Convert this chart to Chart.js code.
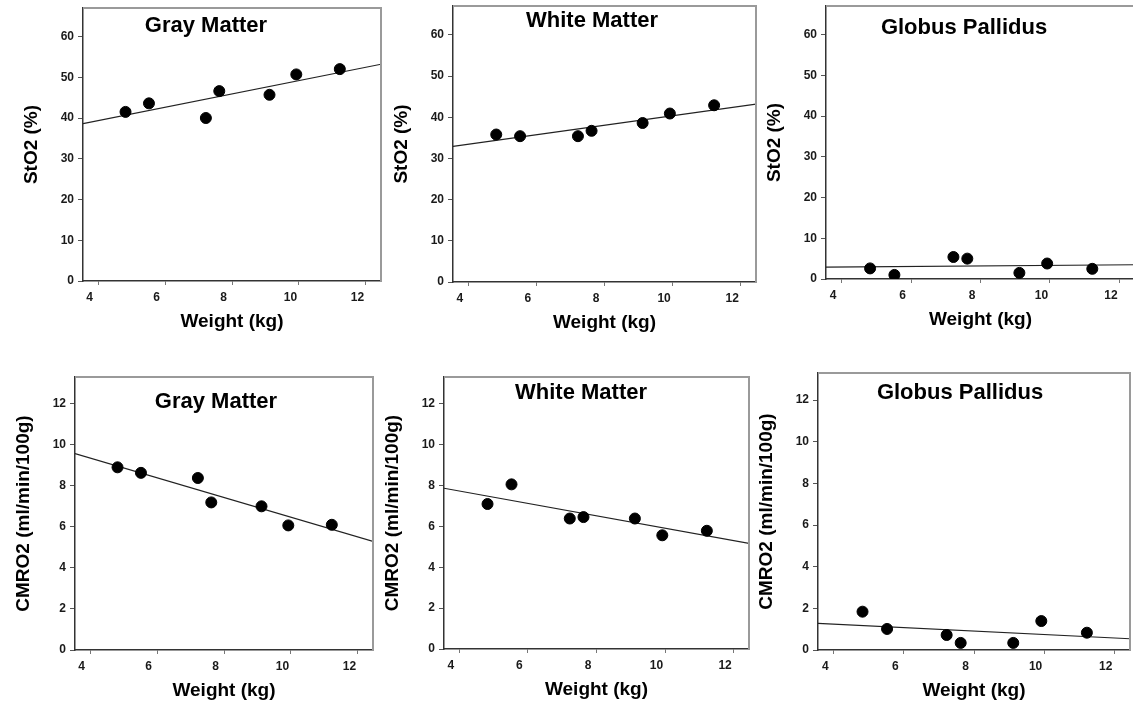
<!DOCTYPE html>
<html>
<head>
<meta charset="utf-8">
<script src="https://cdn.jsdelivr.net/npm/chart.js@4.4.1/dist/chart.umd.min.js"></script>
<style>
html, body { margin: 0; padding: 0; background: #fff; overflow: hidden; width: 1133px; height: 707px; }
.panel { position: absolute; }
</style>
</head>
<body>

<script>
// body weights (kg), same animals in every panel
const weights = [4.82, 5.52, 7.22, 7.62, 9.12, 9.92, 11.22]
const xTicks = [4, 6, 8, 10, 12]
const xRange = [3.55, 12.45]

const sto2Ticks = [0, 10, 20, 30, 40, 50, 60]
const cmro2Ticks = [0, 2, 4, 6, 8, 10, 12]

// StO2 (%)
const sto2Gray = [41.5, 43.6, 40.0, 46.6, 45.7, 50.7, 52.0]
const sto2White = [35.8, 35.4, 35.4, 36.7, 38.6, 40.9, 42.9]
const sto2Globus = [2.6, 1.0, 5.4, 5.0, 1.5, 3.8, 2.5]

// CMRO2 (ml/min/100g)
const cmro2Gray = [8.9, 8.63, 8.38, 7.19, 7.0, 6.07, 6.1]
const cmro2White = [7.09, 8.05, 6.38, 6.45, 6.38, 5.56, 5.78]
const cmro2Globus = [1.84, 1.01, 0.72, 0.34, 0.34, 1.39, 0.83]

// regression line values at the two ends of xRange
const sto2GrayFit = [38.6, 53.2]
const sto2WhiteFit = [32.9, 43.2]
const sto2GlobusFit = [2.9, 3.5]
const cmro2GrayFit = [9.57, 5.29]
const cmro2WhiteFit = [7.86, 5.16]
const cmro2GlobusFit = [1.28, 0.54]

const FONT = "'Liberation Sans', Arial, sans-serif"

// plot area boxes in page pixels [left, top, right, bottom], title offsets inside the plot
const panels = [
{ box: [83, 8, 381, 281], title: "Gray Matter", tx: 123, ty: 18, values: sto2Gray, fit: sto2GrayFit, yLabel: "StO2 (%)", yTicks: sto2Ticks, yMax: 67 },
{ box: [453, 6, 756, 282], title: "White Matter", tx: 139, ty: 15, values: sto2White, fit: sto2WhiteFit, yLabel: "StO2 (%)", yTicks: sto2Ticks, yMax: 67 },
{ box: [826, 6, 1135, 279], title: "Globus Pallidus", tx: 138, ty: 22, values: sto2Globus, fit: sto2GlobusFit, yLabel: "StO2 (%)", yTicks: sto2Ticks, yMax: 67 },
{ box: [75, 377, 373, 650], title: "Gray Matter", tx: 141, ty: 25, values: cmro2Gray, fit: cmro2GrayFit, yLabel: "CMRO2 (ml/min/100g)", yTicks: cmro2Ticks, yMax: 13.3 },
{ box: [444, 377, 749, 649], title: "White Matter", tx: 137, ty: 16, values: cmro2White, fit: cmro2WhiteFit, yLabel: "CMRO2 (ml/min/100g)", yTicks: cmro2Ticks, yMax: 13.3 },
{ box: [818, 373, 1130, 650], title: "Globus Pallidus", tx: 142, ty: 20, values: cmro2Globus, fit: cmro2GlobusFit, yLabel: "CMRO2 (ml/min/100g)", yTicks: cmro2Ticks, yMax: 13.3 }
]

const AXIS_W = 80
const AXIS_H = 60
const PAD = 20


// gray frame on top/right + panel title inside the plot
const framePlugin = {
id: "panelFrame",
afterDraw(chart, args, opts) {
const ctx = chart.ctx
const a = chart.chartArea
ctx.save()
ctx.strokeStyle = "#9a9a9a"
ctx.lineWidth = 2
ctx.beginPath()
ctx.moveTo(a.left, a.top)
ctx.lineTo(a.right, a.top)
ctx.lineTo(a.right, a.bottom)
ctx.stroke()
ctx.fillStyle = "#000"
ctx.font = "bold 22px " + FONT
ctx.textAlign = "center"
ctx.textBaseline = "middle"
ctx.fillText(opts.text, a.left + opts.dx, a.top + opts.dy)
ctx.restore()
}
}


panels.forEach((p, i) => {

const [L, T, R, B] = p.box

const div = document.createElement("div")
div.className = "panel"
div.style.left = (L - AXIS_W) + "px"
div.style.top = (T - PAD) + "px"
div.style.width = (R - L + AXIS_W + PAD) + "px"
div.style.height = (B - T + PAD + AXIS_H) + "px"
const canvas = document.createElement("canvas")
div.appendChild(canvas)
document.body.appendChild(div)

const points = weights.map((w, k) => ({ x: w, y: p.values[k] }))
const line = xRange.map((x, k) => ({ x: x, y: p.fit[k] }))

new Chart(canvas, {

type: "scatter",

data: {
datasets: [
{
data: points,
backgroundColor: "#000",
borderColor: "#000",
pointRadius: 5.5,
pointHoverRadius: 5.5,
order: 0
},
{
data: line,
showLine: true,
borderColor: "#222",
borderWidth: 1.2,
pointRadius: 0,
pointHoverRadius: 0,
order: 1
}
]
},

options: {
responsive: true,
maintainAspectRatio: false,
animation: false,
events: [],
layout: { padding: { top: PAD, right: PAD, left: 0, bottom: 0 } },
plugins: {
legend: { display: false },
tooltip: { enabled: false },
panelFrame: { text: p.title, dx: p.tx, dy: p.ty }
},
scales: {
x: {
type: "linear",
min: xRange[0],
max: xRange[1],
afterFit: s => { s.height = AXIS_H },
afterBuildTicks: s => { s.ticks = xTicks.map(v => ({ value: v })) },
grid: { drawOnChartArea: false, drawTicks: true, tickLength: 4, tickColor: "#777" },
border: { color: "#333", width: 1.5 },
ticks: {
color: "#1a1a1a",
padding: 5,
labelOffset: -8.5,
maxRotation: 0,
font: { family: FONT, size: 12, weight: "bold" }
},
title: {
display: true,
text: "Weight (kg)",
color: "#000",
padding: { top: 0, bottom: 8 },
font: { family: FONT, size: 19, weight: "bold" }
}
},
y: {
type: "linear",
min: 0,
max: p.yMax,
afterFit: s => { s.width = AXIS_W },
afterBuildTicks: s => { s.ticks = p.yTicks.map(v => ({ value: v })) },
grid: { drawOnChartArea: false, drawTicks: true, tickLength: 5, tickColor: "#555" },
border: { color: "#333", width: 1.5 },
ticks: {
color: "#1a1a1a",
padding: 4,
font: { family: FONT, size: 12, weight: "bold" }
},
title: {
display: true,
text: p.yLabel,
color: "#000",
padding: { top: 17, bottom: 0 },
font: { family: FONT, size: 19, weight: "bold" }
}
}
}
},

plugins: [framePlugin]

})

})
</script>
</body>
</html>
